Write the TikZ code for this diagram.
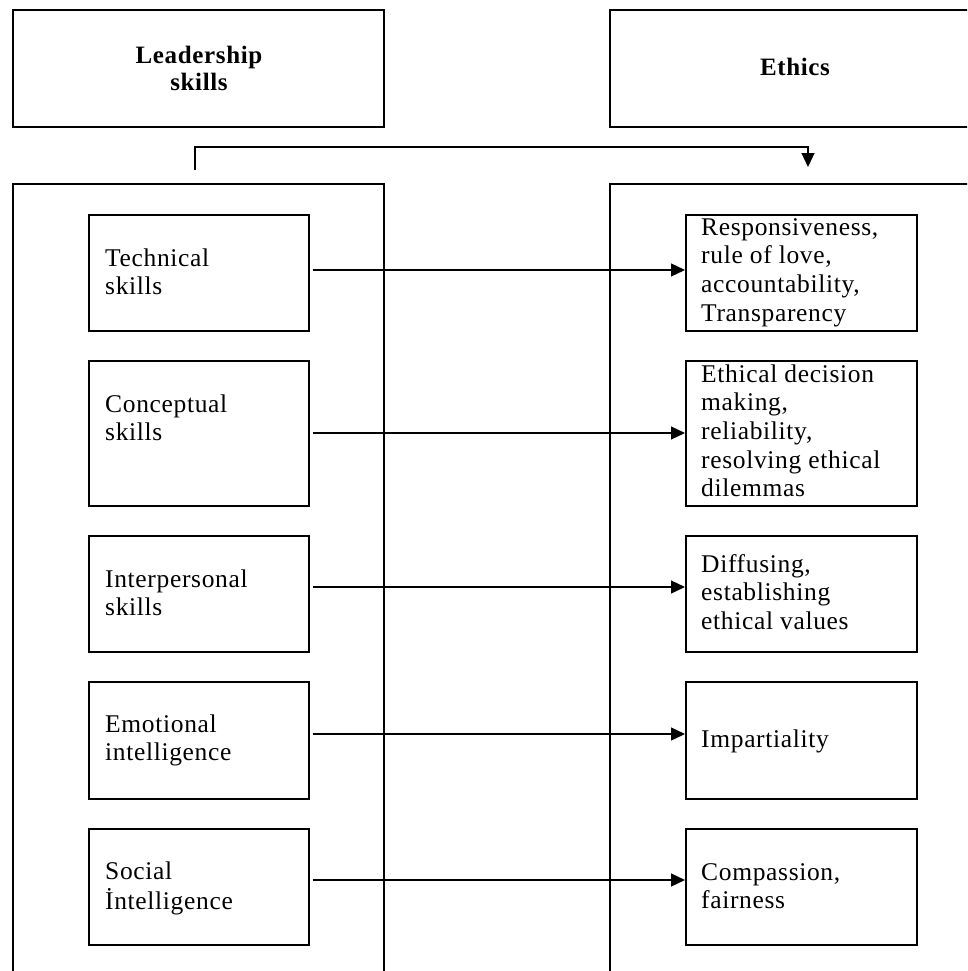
\documentclass[tikz,border=0pt]{standalone}
\usepackage{fontspec}
\setmainfont{Liberation Serif}[LetterSpace=2.6]
\usetikzlibrary{arrows.meta}
\begin{document}
\begin{tikzpicture}[x=1pt,y=-1pt,
  box/.style={draw, line width=1.6pt, inner sep=0pt, anchor=north west},
  txt/.style={font=\fontsize{25.5}{28.6}\selectfont, inner sep=0pt, align=left, anchor=north west},
  head/.style={font=\bfseries\fontsize{25}{27.5}\selectfont, inner sep=0pt, align=center},
  arr/.style={line width=1.2pt, -{Triangle[length=14pt,width=13pt]}}]
\useasboundingbox (0,0) rectangle (967,971);
\clip (0,0) rectangle (967,971);
% header boxes
\node[box, minimum width=371pt, minimum height=117pt] (lead) at (12,9) {};
\node[box, minimum width=371pt, minimum height=117pt] (eth) at (609,9) {};
\node[head, anchor=north] (leadt) at (199,44) {\strut Leadership\\skills};
\node[head, anchor=base] (etht) at (795,76) {Ethics};
% big boxes
\node[box, minimum width=371pt, minimum height=827pt] (bigL) at (12,183) {};
\node[box, minimum width=371pt, minimum height=827pt] (bigR) at (609,183) {};
% top connector
\coordinate (cs) at (195,170);
\coordinate (ce) at (808,167);
\draw[arr] (cs) |- (ce |- 0,147) -- (ce);
% left inner boxes
\node[box, minimum width=220pt, minimum height=116pt] (l1) at (88,214) {};
\node[box, minimum width=220pt, minimum height=145pt] (l2) at (88,360) {};
\node[box, minimum width=220pt, minimum height=116pt] (l3) at (88,535) {};
\node[box, minimum width=220pt, minimum height=117pt] (l4) at (88,681) {};
\node[box, minimum width=220pt, minimum height=116pt] (l5) at (88,828) {};
% right inner boxes
\node[box, minimum width=231pt, minimum height=116pt] (r1) at (685,214) {};
\node[box, minimum width=231pt, minimum height=145pt] (r2) at (685,360) {};
\node[box, minimum width=231pt, minimum height=116pt] (r3) at (685,535) {};
\node[box, minimum width=231pt, minimum height=117pt] (r4) at (685,681) {};
\node[box, minimum width=231pt, minimum height=116pt] (r5) at (685,828) {};
% left texts
\node[txt] (l1t) at (105,246) {\strut Technical\\skills};
\node[txt] (l2t) at (105,392) {\strut Conceptual\\skills};
\node[txt] (l3t) at (105,567) {\strut Interpersonal\\skills};
\node[txt] (l4t) at (105,712) {\strut Emotional\\intelligence};
\node[txt] (l5t) at (105,859) {\strut Social\\İntelligence};
% right texts
\node[txt] (r1t) at (701,215) {\strut Responsiveness,\\rule of love,\\accountability,\\Transparency};
\node[txt] (r2t) at (701,362) {\strut Ethical decision\\making,\\reliability,\\resolving ethical\\dilemmas};
\node[txt] (r3t) at (701,552) {\strut Diffusing,\\establishing\\ethical values};
\node[txt] (r4t) at (701,727) {\strut Impartiality};
\node[txt] (r5t) at (701,860) {\strut Compassion,\\fairness};
% arrows
\draw[arr] ([xshift=3pt]l1.east |- 0,270) -- (r1.west |- 0,270);
\draw[arr] ([xshift=3pt]l2.east |- 0,433) -- (r2.west |- 0,433);
\draw[arr] ([xshift=3pt]l3.east |- 0,587) -- (r3.west |- 0,587);
\draw[arr] ([xshift=3pt]l4.east |- 0,734) -- (r4.west |- 0,734);
\draw[arr] ([xshift=3pt]l5.east |- 0,880) -- (r5.west |- 0,880);
\end{tikzpicture}
\end{document}
